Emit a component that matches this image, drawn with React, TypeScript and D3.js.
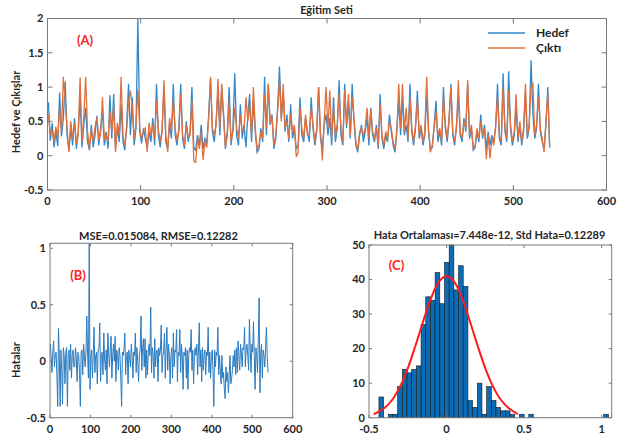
import React from 'react';
import * as d3 from 'd3';

const W = 638;
const H = 443;

// Eğitim seti, every second sample (1, 3, 5 ... 539), values x100
const hedef = [
  78, 22, 48, 12, 35, 14, 92, 28, 55, 108,
  30, 8, 40, 15, 55, 10, 35, 88, 12, 45,
  70, 20, 8, 45, 12, 30, 58, 15, 40, 65,
  15, 35, 10, 88, 25, 90, 12, 40, 20, 75,
  20, 8, 45, 105, 30, 85, 15, 40, 200, 35,
  18, 40, 25, 12, 35, 20, 55, 15, 105, 30,
  12, 40, 100, 20, 10, 48, 25, 105, 30, 15,
  40, 105, 25, 10, 50, 20, 35, 100, 12, 8,
  30, 15, 45, 10, 25, 18, 60, 112, 35, 20,
  50, 95, 30, 100, 60, 10, 35, 100, 15, 40,
  120, 30, 15, 75, 25, 45, 12, 60, 90, 20,
  80, 35, 5, 10, 40, 20, 115, 30, 105, 45,
  60, 10, 25, 70, 130, 55, 90, 35, 60, 20,
  75, 25, 40, 10, 15, 85, 30, 20, 55, 35,
  20, 85, 40, 15, 35, 100, 25, 10, 45, 60,
  30, 55, 15, 85, 20, 40, 110, 30, 15, 105,
  40, 80, 25, 105, 50, 15, 5, 30, 45, 20,
  35, 55, 15, 70, 30, 20, 45, 10, 90, 25,
  10, 30, 20, 60, 35, 15, 5, 40, 80, 30,
  85, 30, 45, 20, 105, 35, 15, 40, 95, 25,
  40, 15, 30, 90, 35, 8, 12, 45, 80, 20,
  35, 15, 100, 40, 20, 50, 105, 30, 15, 45,
  85, 30, 20, 55, 35, 105, 25, 40, 8, 12,
  35, 20, 60, 25, 45, 10, 35, 15, 30, 20,
  40, 105, 25, 15, 120, 35, 20, 123, 40, 15,
  30, 70, 20, 45, 15, 35, 90, 25, 40, 139,
  60, 25, 40, 105, 35, 20, 10, 45, 100, 12,
];

const cikti = [
  60, 30, 38, 20, 42, 25, 70, 35, 115, 80,
  40, 5, 50, 25, 48, 18, 30, 114, 20, 58,
  115, 35, 10, 38, 20, 42, 55, 25, 30, 85,
  25, 30, 20, 65, 35, 72, 5, 48, 30, 115,
  30, 15, 38, 80, 95, 70, 25, 45, 96, 40,
  25, 35, 40, 5, 48, 30, 45, 25, 80, 38,
  20, 35, 110, 30, 5, 55, 35, 82, 40, 22,
  35, 90, 30, 15, 45, 28, 30, 80, -8, -10,
  25, 10, 35, -6, 20, 12, 55, 115, 40, 30,
  45, 112, 40, 105, 55, 12, 30, 80, 20, 35,
  70, 40, 25, 60, 35, 40, 85, 50, 75, 30,
  100, 40, 10, 15, 35, 25, 90, 40, 105, 50,
  55, 15, 30, 65, 110, 50, 105, 40, 50, 25,
  60, 35, 45, -2, 5, 70, 40, 25, 60, 30,
  30, 70, 45, 20, 40, 100, 35, -7, 50, 100,
  40, 95, 25, 70, 30, 45, 90, 40, 20, 95,
  45, 90, 30, 85, 55, 20, 8, 35, 40, 30,
  40, 70, 25, 68, 35, 25, 40, 15, 75, 30,
  15, 35, 25, 50, 40, 20, 10, 35, 105, 40,
  105, 35, 70, 25, 85, 40, 20, 45, 80, 30,
  45, 20, 35, 115, 40, 5, 15, 40, 65, 30,
  40, 20, 85, 45, 25, 55, 100, 35, 20, 40,
  110, 35, 25, 50, 40, 110, 30, 45, 10, 15,
  40, 25, 50, 30, 40, -5, 30, -4, 25, 15,
  45, 85, 30, 20, 100, 40, 25, 95, 45, 20,
  35, 90, 25, 50, 20, 40, 105, 30, 45, 100,
  105, 30, 45, 85, 40, 25, 5, 50, 90, 15,
];

// Hatalar, every second sample (1, 3, 5 ... 539), values x100
const hatalar = [
  15, 2, -10, 8, 18, -5, 5, 8, -12, -40,
  29, 5, -40, 10, -8, -38, 12, 5, -20, 8,
  12, -40, 5, 10, -8, 15, -15, 5, 10, -5,
  -5, 12, 2, -18, 8, 5, -10, -40, 8, 10,
  -12, 15, 5, -5, 10, 40, 5, -15, 104, -25,
  5, 10, -15, 8, 30, -10, 5, 8, -20, 10,
  12, 34, -18, 5, 8, -12, 25, 2, -8, 10,
  -20, 25, 8, -5, 10, 22, -15, 5, 15, 0,
  22, -18, 10, 5, -8, 12, 5, -15, -40, 8,
  5, 10, 25, -12, 5, 8, -20, 10, 2, -5,
  15, 5, -15, 8, 5, 25, -10, 12, 0, -18,
  5, 10, 40, -8, 12, 20, -5, 20, -15, 10,
  -12, 8, 15, 5, 48, -10, 12, 5, -15, 20,
  -5, 8, 10, -18, 12, 5, 10, 32, -10, 5,
  8, 25, -15, 10, 30, -8, 15, 5, -20, 5,
  12, -15, 25, -5, 10, 8, 28, -18, 8, 5,
  28, -10, 15, 5, -25, 8, 5, 12, -15, 10,
  -25, 5, 12, 8, 28, -8, 10, -20, 5, 12,
  5, 15, -12, 8, 34, -5, 10, -18, 12, -8,
  5, 10, -12, 8, 5, 30, -10, 8, -15, 5,
  10, -8, -40, 10, -5, 8, 5, 30, -12, 5,
  -8, -20, 5, -15, -10, -25, -33, -5, -18, -10,
  -28, -12, 5, -20, -15, -8, 5, -5, 10, -12,
  12, -10, 18, 5, -8, 15, 8, -5, 12, 10,
  30, -5, 10, 15, 5, -8, 37, 12, -10, 15,
  8, 35, 5, -25, 12, 5, -10, 20, 56, -28,
  8, 15, -15, 10, 5, -5, 12, 30, 5, -10,
];

// histogram of the errors
const histStart = -0.436;
const histBinWidth = 0.0302;
const histCounts = [
  6, 0, 1, 1, 9, 14, 13, 14, 15,
  27, 35, 34, 42, 33, 45, 50, 37, 44, 38,
  5, 3, 10, 1, 9, 5, 3, 2, 2, 1, 0, 1, 0, 1,
  0, 0, 0, 0, 0, 0, 0, 0, 0, 0, 0, 0, 0, 0, 0,
  1,
];

// red fit curve
const fitX = [-0.47, -0.4, -0.35, -0.3, -0.25, -0.2, -0.15, -0.1, -0.05, 0, 0.05, 0.1, 0.15, 0.2, 0.25, 0.3, 0.35, 0.4, 0.46];
const fitY = [1, 2.8, 5.2, 9, 14.3, 20.9, 28, 34.6, 39.3, 41, 39.3, 34.6, 28, 20.9, 14.3, 9, 5.2, 2.8, 1];

const topXTicks = [0, 100, 200, 300, 400, 500, 600];
const topYTicks = [-0.5, 0, 0.5, 1, 1.5, 2];
const errXTicks = [0, 100, 200, 300, 400, 500, 600];
const errYTicks = [-0.5, 0, 0.5, 1];
const histXTicks = [-0.5, 0, 0.5, 1];
const histYTicks = [0, 10, 20, 30, 40, 50];

const FONT = 'Lato, "Open Sans", sans-serif';
const TXT = '#262626';
const BOX = '#7a7a7a';
const BLUE = '#3288cc';
const ORANGE = '#e0703c';

function Frame({ x, y, xTicks, yTicks, tick, labelGap }) {
  const [x0, x1] = x.range();
  const [yb, yt] = y.range();
  return (
    <g>
      <rect x={x0} y={yt} width={x1 - x0} height={yb - yt} fill="none" stroke={BOX} strokeWidth={1} />
      {xTicks.map(t => (
        <g key={'x' + t}>
          <line x1={x(t)} x2={x(t)} y1={yb} y2={yb - tick} stroke={BOX} />
          <line x1={x(t)} x2={x(t)} y1={yt} y2={yt + tick} stroke={BOX} />
          <text x={x(t)} y={yb + labelGap} textAnchor="middle" fontFamily={FONT} fontWeight={700} fontSize={11} fill={TXT}>{t}</text>
        </g>
      ))}
      {yTicks.map(t => (
        <g key={'y' + t}>
          <line x1={x0} x2={x0 + tick} y1={y(t)} y2={y(t)} stroke={BOX} />
          <line x1={x1} x2={x1 - tick} y1={y(t)} y2={y(t)} stroke={BOX} />
          <text x={x0 - 4} y={y(t)} dy="0.35em" textAnchor="end" fontFamily={FONT} fontWeight={700} fontSize={11} fill={TXT}>{t}</text>
        </g>
      ))}
    </g>
  );
}

export default function App() {
  // top: Eğitim Seti
  const xTop = d3.scaleLinear().domain([0, 600]).range([47.5, 606.5]);
  const yTop = d3.scaleLinear().domain([-0.5, 2]).range([190, 18.5]);
  const topLine = d3.line<number>().x((d, i) => xTop(1 + 2 * i)).y(d => yTop(d / 100));

  // bottom left: errors
  const xErr = d3.scaleLinear().domain([0, 600]).range([50, 292.7]);
  const yErr = d3.scaleLinear().domain([-0.5, 1.044]).range([417.7, 243.3]);
  const errLine = d3.line<number>().x((d, i) => xErr(1 + 2 * i)).y(d => yErr(d / 100));

  // bottom right: histogram
  const xHist = d3.scaleLinear().domain([-0.5, 1.065]).range([369, 611.7]);
  const yHist = d3.scaleLinear().domain([0, 50]).range([417.7, 245]);
  const fitLine = d3.line<number>().x(d => xHist(d)).y((d, i) => yHist(fitY[i])).curve(d3.curveCatmullRom);

  return (
    <svg width={W} height={H} style={{ position: 'absolute', left: 0, top: 0, background: '#fff' }}>
      <rect width={W} height={H} fill="#fff" />

      {/* (A) */}
      <text x={326.5} y={14} textAnchor="middle" fontFamily={FONT} fontWeight={700} fontSize={11} fill={TXT}>Eğitim Seti</text>
      <path d={topLine(hedef)} fill="none" stroke={BLUE} strokeWidth={1.3} />
      <path d={topLine(cikti)} fill="none" stroke={ORANGE} strokeWidth={1.3} />
      <Frame x={xTop} y={yTop} xTicks={topXTicks} yTicks={topYTicks} tick={5} labelGap={15} />
      <text transform="translate(20,112) rotate(-90)" textAnchor="middle" fontFamily={FONT} fontWeight={700} fontSize={11} fill={TXT}>Hedef ve Çıkışlar</text>
      <text x={85} y={45} textAnchor="middle" fontFamily={FONT} fontWeight={700} fontSize={13} fill="#ff2020">(A)</text>
      <line x1={488} x2={525} y1={33} y2={33} stroke={BLUE} strokeWidth={1.3} />
      <line x1={488} x2={525} y1={48} y2={48} stroke={ORANGE} strokeWidth={1.3} />
      <text x={536} y={36.5} fontFamily={FONT} fontWeight={700} fontSize={12} fill={TXT}>Hedef</text>
      <text x={536} y={51.5} fontFamily={FONT} fontWeight={700} fontSize={12} fill={TXT}>Çıktı</text>

      {/* (B) */}
      <text x={158.5} y={239.5} textAnchor="middle" fontFamily={FONT} fontWeight={700} fontSize={11} fill={TXT}>MSE=0.015084, RMSE=0.12282</text>
      <path d={errLine(hatalar)} fill="none" stroke="#2a7bc0" strokeWidth={1} />
      <Frame x={xErr} y={yErr} xTicks={errXTicks} yTicks={errYTicks} tick={3} labelGap={15.5} />
      <text transform="translate(20,360) rotate(-90)" textAnchor="middle" fontFamily={FONT} fontWeight={700} fontSize={11} fill={TXT}>Hatalar</text>
      <text x={78} y={280} textAnchor="middle" fontFamily={FONT} fontWeight={700} fontSize={13} fill="#ff2020">(B)</text>

      {/* (C) */}
      <text x={489.5} y={239} textAnchor="middle" fontFamily={FONT} fontWeight={700} fontSize={11} fill={TXT}>Hata Ortalaması=7.448e-12, Std Hata=0.12289</text>
      {histCounts.map((c, i) => c > 0 ? (
        <rect key={i}
          x={xHist(histStart + i * histBinWidth)}
          y={yHist(c)}
          width={xHist(histStart + (i + 1) * histBinWidth) - xHist(histStart + i * histBinWidth)}
          height={yHist(0) - yHist(c)}
          fill="#0b6cb5" stroke="#1a1a1a" strokeWidth={0.6} />
      ) : null)}
      <path d={fitLine(fitX)} fill="none" stroke="#ff1a1a" strokeWidth={2} />
      <Frame x={xHist} y={yHist} xTicks={histXTicks} yTicks={histYTicks} tick={3} labelGap={15.5} />
      <text x={396.5} y={270} textAnchor="middle" fontFamily={FONT} fontWeight={700} fontSize={13} fill="#ff2020">(C)</text>
    </svg>
  );
}
